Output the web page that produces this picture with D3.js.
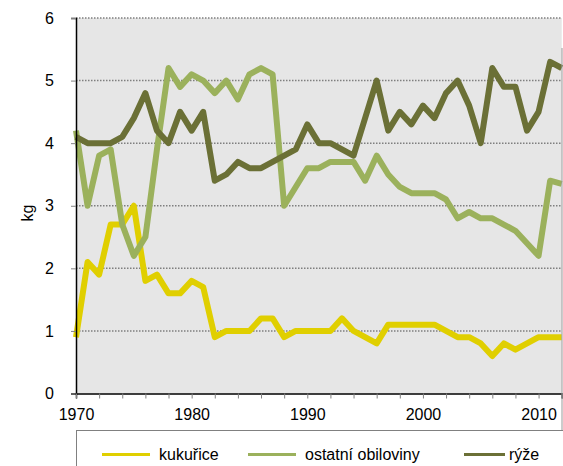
<!DOCTYPE html>
<html>
<head>
<meta charset="utf-8">
<script src="https://cdn.jsdelivr.net/npm/d3@7"></script>
<style>
  body { margin: 0; background: #fff; }
  text { font-family: Arial, "Liberation Sans", sans-serif; fill: #000; }
</style>
</head>
<body>
<div id="chart"></div>
<script>
// data (kg per year)
let years = d3.range(1970, 2013);
let kukurice = [0.9, 2.1, 1.9, 2.7, 2.7, 3.0, 1.8, 1.9, 1.6, 1.6, 1.8, 1.7, 0.9, 1.0, 1.0, 1.0, 1.2, 1.2, 0.9, 1.0,
    1.0, 1.0, 1.0, 1.2, 1.0, 0.9, 0.8, 1.1, 1.1, 1.1, 1.1, 1.1, 1.0, 0.9, 0.9, 0.8, 0.6, 0.8, 0.7, 0.8,
    0.9, 0.9, 0.9];
let obiloviny = [4.2, 3.0, 3.8, 3.9, 2.7, 2.2, 2.5, 3.9, 5.2, 4.9, 5.1, 5.0, 4.8, 5.0, 4.7, 5.1, 5.2, 5.1, 3.0, 3.3,
    3.6, 3.6, 3.7, 3.7, 3.7, 3.4, 3.8, 3.5, 3.3, 3.2, 3.2, 3.2, 3.1, 2.8, 2.9, 2.8, 2.8, 2.7, 2.6, 2.4,
    2.2, 3.4, 3.35];
let ryze = [4.1, 4.0, 4.0, 4.0, 4.1, 4.4, 4.8, 4.2, 4.0, 4.5, 4.2, 4.5, 3.4, 3.5, 3.7, 3.6, 3.6, 3.7, 3.8, 3.9,
    4.3, 4.0, 4.0, 3.9, 3.8, 4.4, 5.0, 4.2, 4.5, 4.3, 4.6, 4.4, 4.8, 5.0, 4.6, 4.0, 5.2, 4.9, 4.9, 4.2,
    4.5, 5.3, 5.2];
let seriesNames = ['kukuřice', 'ostatní obiloviny', 'rýže'];
let yTicks = [0, 1, 2, 3, 4, 5, 6];
let xLabels = [1970, 1980, 1990, 2000, 2010];

let colors = ['#e0cf00', '#9bb15c', '#6b7036'];

// svg size
let svgWidth = 563;
let svgHeight = 466;

let margin = { top: 18, right: 1.3, bottom: 72.5, left: 76 };
let width = svgWidth - margin.left - margin.right;
let height = svgHeight - margin.top - margin.bottom;

let svg = d3.select('#chart')
    .append('svg')
    .attr('width', svgWidth)
    .attr('height', svgHeight);

let chartGroup = svg.append('g')
    .attr('transform', `translate(${margin.left}, ${margin.top})`);

// scales
let xScale = d3.scaleLinear()
    .domain([1970, 2012])
    .range([0, width]);

let yScale = d3.scaleLinear()
    .domain([0, 6])
    .range([height, 0]);

// plot background
chartGroup.append('rect')
    .attr('width', width)
    .attr('height', height)
    .attr('fill', '#e6e6e6');

// dotted gridlines
chartGroup.selectAll('.grid')
    .data(yTicks.filter(d => d > 0))
    .enter()
    .append('line')
    .attr('x1', 0)
    .attr('x2', width)
    .attr('y1', d => yScale(d))
    .attr('y2', d => yScale(d))
    .attr('stroke', '#7f7f7f')
    .attr('stroke-width', 1.5)
    .attr('stroke-dasharray', '1.5,1.5');

// right edge line
svg.append('line')
    .attr('x1', svgWidth - 1)
    .attr('x2', svgWidth - 1)
    .attr('y1', 48)
    .attr('y2', svgHeight)
    .attr('stroke', '#999')
    .attr('stroke-width', 1);

// lines
let lineGen = d3.line()
    .x((d, i) => xScale(years[i]))
    .y(d => yScale(d));

[kukurice, obiloviny, ryze].forEach(function (values, i) {
    chartGroup.append('path')
        .datum(values)
        .attr('d', lineGen)
        .attr('fill', 'none')
        .attr('stroke', colors[i])
        .attr('stroke-width', 6)
        .attr('stroke-linejoin', 'round');
});

// y axis
let leftAxis = d3.axisLeft(yScale)
    .tickValues(yTicks)
    .tickSize(5)
    .tickPadding(17)
    .tickFormat(d3.format('d'));

let yAxis = chartGroup.append('g').call(leftAxis);
yAxis.select('.domain').attr('stroke', '#000').attr('stroke-width', 1.5);
yAxis.selectAll('.tick line').attr('stroke', '#808080');
yAxis.selectAll('text').attr('font-size', '16px');

// x axis (ticks every 2 years)
let bottomAxis = d3.axisBottom(xScale)
    .tickValues(d3.range(1970, 2013, 2))
    .tickSize(5)
    .tickFormat('');

let xAxis = chartGroup.append('g')
    .attr('transform', `translate(0, ${height})`)
    .call(bottomAxis);
xAxis.select('.domain').attr('stroke', '#000').attr('stroke-width', 1.5);
xAxis.selectAll('.tick line').attr('stroke', '#808080');

// x labels
let labelAxis = d3.axisBottom(xScale)
    .tickValues(xLabels)
    .tickSize(0)
    .tickPadding(15)
    .tickFormat(d3.format('d'));

let xLabelGroup = chartGroup.append('g')
    .attr('transform', `translate(0, ${height})`)
    .call(labelAxis);
xLabelGroup.select('.domain').remove();
xLabelGroup.selectAll('text').attr('font-size', '16px');

// y label
svg.append('text')
    .attr('transform', 'translate(33, 213) rotate(-90)')
    .attr('text-anchor', 'middle')
    .attr('font-size', '16px')
    .text('kg');

// legend
let legend = svg.append('g');
legend.append('rect')
    .attr('x', 76.5)
    .attr('y', 430.5)
    .attr('width', 500)
    .attr('height', 50)
    .attr('fill', '#fff')
    .attr('stroke', '#808080');

let legendX = [102, 248, 464];
seriesNames.forEach(function (name, i) {
    legend.append('line')
        .attr('x1', legendX[i])
        .attr('x2', legendX[i] + (i === 2 ? 41 : 48))
        .attr('y1', 454.5)
        .attr('y2', 454.5)
        .attr('stroke', colors[i])
        .attr('stroke-width', 3);
    legend.append('text')
        .attr('x', legendX[i] + (i === 2 ? 45 : 57))
        .attr('y', 460)
        .attr('font-size', '16px')
        .text(name);
});
</script>
</body>
</html>
